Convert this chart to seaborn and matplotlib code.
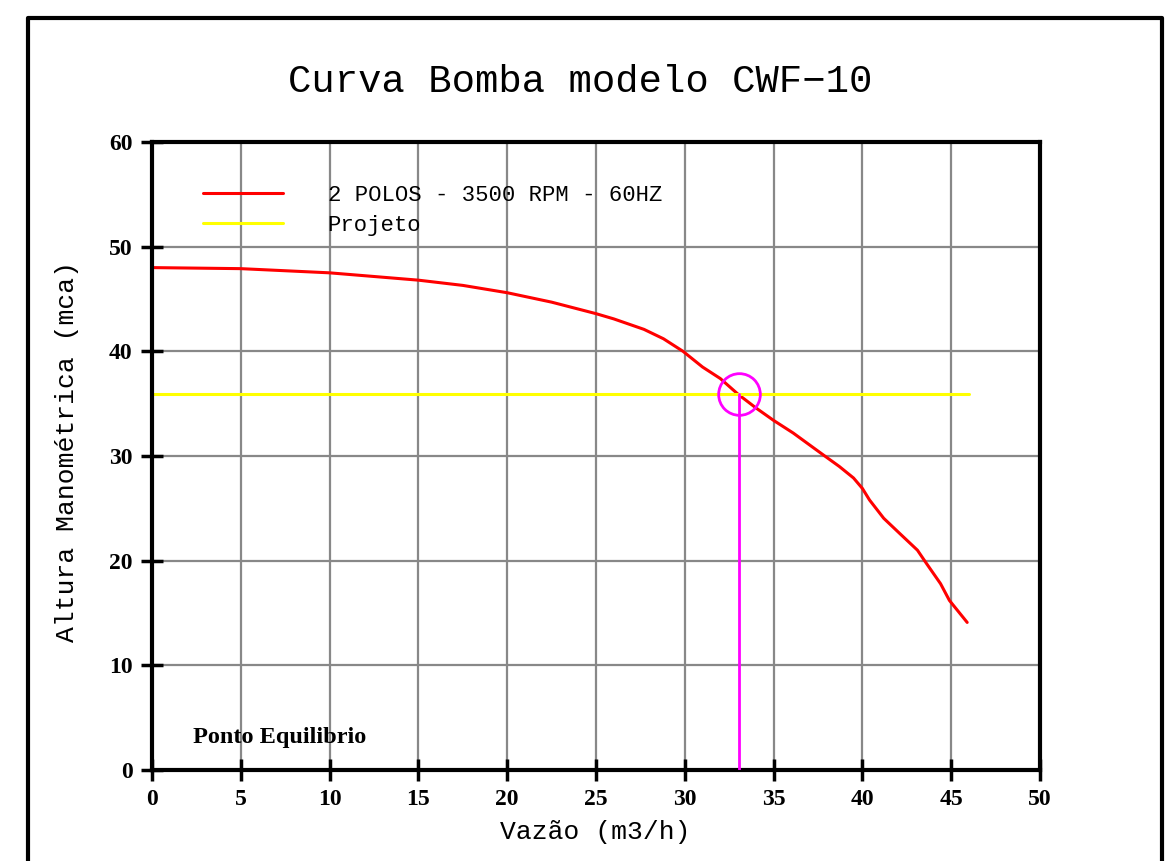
import numpy as np
import pandas as pd
import matplotlib.pyplot as plt
import seaborn as sns
from matplotlib.lines import Line2D

sns.set_style("white")
plt.rcParams['text.color'] = 'black'
plt.rcParams['axes.labelcolor'] = 'black'

# curva da bomba
vazao = [0, 5, 10, 15, 17.5, 20, 22.5, 25, 26, 27.7, 28.8, 29.9, 31, 32, 33, 34, 35,
         36.1, 37.8, 38.7, 39.5, 40, 40.4, 41.2, 42.1, 43.1, 43.6, 44.4, 44.9, 45.9]
altura = [48.0, 47.9, 47.5, 46.8, 46.3, 45.6, 44.7, 43.6, 43.1, 42.1, 41.2, 40.0, 38.5, 37.4, 35.9, 34.6, 33.4,
          32.2, 30.1, 29.0, 27.9, 26.9, 25.8, 24.05, 22.6, 21.0, 19.75, 17.8, 16.2, 14.1]

# linha de projeto
proj_x = [0, 46]
proj_y = [35.9, 35.9]

# ponto de equilibrio
eq_x = 33.05
eq_y = 35.9

x_ticks = [0, 5, 10, 15, 20, 25, 30, 35, 40, 45, 50]
y_ticks = [0, 10, 20, 30, 40, 50, 60]

fig = plt.figure(figsize=(11.7, 8.61), dpi=100)
ax = fig.add_axes([152 / 1170, 1 - 770 / 861, 888 / 1170, 628 / 861])

df_curve = pd.DataFrame({'x': vazao, 'y': altura})
df_proj = pd.DataFrame({'x': proj_x, 'y': proj_y})

sns.lineplot(data=df_curve, x='x', y='y', ax=ax, color='#ff0000', linewidth=2.2,
             label='2 POLOS - 3500 RPM - 60HZ', sort=False)
sns.lineplot(data=df_proj, x='x', y='y', ax=ax, color='#ffff00', linewidth=2.2,
             label='Projeto')

# ponto de equilibrio
ax.plot([eq_x, eq_x], [0, eq_y], color='#ff00ff', linewidth=2, zorder=4)
ax.plot([eq_x], [eq_y], marker='o', markersize=30, markerfacecolor='none',
        markeredgecolor='#ff00ff', markeredgewidth=2, zorder=4)

ax.set_xlim(0, 50)
ax.set_ylim(0, 60)
ax.set_xticks(x_ticks)
ax.set_yticks(y_ticks)
ax.grid(True, color='#888888', linewidth=1.6)
ax.set_axisbelow(True)

for s in ax.spines.values():
    s.set_color('black')
    s.set_linewidth(3)
    s.set_visible(True)

ax.tick_params(axis='both', which='major', bottom=True, left=True, direction='inout',
               length=16, width=2.5, colors='black', pad=6)
for lab in ax.get_xticklabels() + ax.get_yticklabels():
    lab.set_fontfamily('Liberation Serif')
    lab.set_fontweight('bold')
    lab.set_fontsize(17)

ax.set_xlabel('')
ax.set_ylabel('')
fig.text(595 / 1170, 1 - 832 / 861, 'Vazão (m3/h)', ha='center', va='center',
         family='Liberation Mono', fontsize=19)
fig.text(67 / 1170, 1 - 451 / 861, 'Altura Manométrica (mca)', ha='center', va='center',
         rotation=90, family='Liberation Mono', fontsize=19)
fig.text(580 / 1170, 1 - 82 / 861, 'Curva Bomba modelo CWF\u221210', ha='center', va='center',
         family='Liberation Mono', fontsize=28)

ax.text(2.3, 3.1, 'Ponto Equilibrio', family='Liberation Serif', fontweight='bold',
        fontsize=17.5, ha='left', va='center')

leg = ax.legend(loc='upper left', bbox_to_anchor=(0.035, 0.963), frameon=False,
                handlelength=3.6, handletextpad=2.0, labelspacing=0.4,
                prop={'family': 'Liberation Mono', 'size': 16})

# moldura externa
fig.add_artist(Line2D([28 / 1170, 28 / 1170, 1162 / 1170, 1162 / 1170],
                      [-0.1, 1 - 18 / 861, 1 - 18 / 861, -0.1],
                      transform=fig.transFigure, color='black', linewidth=3))

fig.savefig('out.png', dpi=100)
